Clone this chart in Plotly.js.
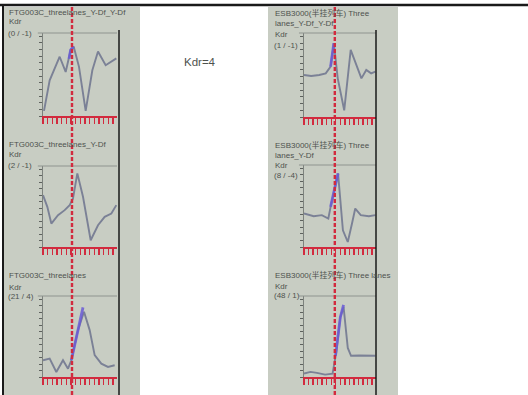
<!DOCTYPE html>
<html>
<head>
<meta charset="utf-8">
<script src="https://cdn.plot.ly/plotly-3.0.1.min.js"></script>
<style>html,body{margin:0;padding:0;background:#fff;}#chart{width:528px;height:395px;}</style>
</head>
<body>
<div id="chart"></div>
<script>
// ---- data (x: time step, y: Kdr response, 0-10 scale) ----
const L1_x = [0.15, 1.0, 2.5, 3.4, 4.15, 4.6, 5.4, 6.4, 7.4, 8.25, 9.4, 11.0];
const L1_y = [0.61, 4.29, 7.14, 5.31, 7.96, 8.37, 5.92, 0.61, 5.51, 7.76, 6.12, 6.94];
const L1_hx = [3.9, 4.15, 4.6];
const L1_hy = [6.9, 7.96, 8.37];

const L2_x = [0, 0.65, 1.25, 2.25, 3.25, 4.0, 4.5, 5.15, 6.0, 6.75, 7.15, 8.25, 9.25, 10.25, 11.0];
const L2_y = [6.40, 4.96, 2.89, 3.93, 4.55, 5.17, 5.99, 9.09, 6.20, 2.89, 0.83, 2.69, 3.72, 4.13, 5.17];

const L3_x = [0, 1.0, 2.0, 3.0, 3.75, 4.25, 5.25, 6.15, 7.0, 7.75, 8.75, 9.75, 10.75];
const L3_y = [2.07, 2.27, 0.62, 2.07, 1.03, 2.07, 5.79, 8.06, 5.79, 2.69, 1.65, 1.24, 1.45];
const L3_hx = [4.25, 5.25, 6.0];
const L3_hy = [2.07, 6.0, 8.6];

const R1_x = [0, 1.1, 2.35, 3.35, 4.1, 4.6, 5.2, 6.2, 7.2, 8.1, 8.85, 9.6, 10.35, 11.0];
const R1_y = [5.0, 4.88, 5.0, 5.2, 6.0, 8.8, 4.6, 0.8, 8.0, 6.0, 4.6, 5.6, 5.2, 5.4];
const R1_hx = [4.1, 4.6];
const R1_hy = [6.0, 8.8];

const R2_x = [0, 1.5, 2.75, 3.75, 4.1, 4.75, 5.25, 6.0, 6.75, 7.4, 7.9, 8.75, 10.0, 11.0];
const R2_y = [4.08, 3.76, 3.88, 3.47, 4.90, 7.35, 8.98, 2.04, 0.61, 2.86, 4.69, 3.88, 3.76, 3.88];
const R2_hx = [4.1, 4.75, 5.25];
const R2_hy = [4.90, 7.35, 8.98];

const R3_x = [0, 1.0, 2.0, 3.25, 4.4, 5.0, 5.6, 6.1, 6.75, 7.25, 8.5, 11.0];
const R3_y = [0.42, 0.63, 0.51, 0.30, 0.42, 3.16, 7.38, 8.65, 3.59, 2.62, 2.66, 2.62];
const R3_hx = [4.85, 5.6, 6.1];
const R3_hy = [2.6, 7.38, 8.9];

// event time (red dashed marker) per column
const eventLeft = 4.35;
const eventRight = 4.75;

// panel texts
const titlesLeft = ["FTG003C_threelanes_Y-Df_Y-Df", "FTG003C_threelanes_Y-Df", "FTG003C_threelanes"];
const titlesRight = [["ESB3000(半挂列车) Three", "lanes_Y-Df_Y-Df"], ["ESB3000(半挂列车) Three", "lanes_Y-Df"], ["ESB3000(半挂列车) Three lanes"]];
const countsLeft = ["(0 / -1)", "(2 / -1)", "(21 / 4)"];
const countsRight = ["(1 / -1)", "(8 / -4)", "(48 / 1)"];
const yLabel = "Kdr";
const noteText = "Kdr=4";

// ---- layout helpers ----
const W = 528, H = 395;
const px = v => v / W;
const py = v => 1 - v / H;

const lineCol = '#7b8196';
const hiCol = '#6a5ad6';
const redCol = '#d22a3e';
const bgGray = '#c8cdc3';

// panel boxes in pixels: [left, right, top, bottom]
const boxes = [
  [43, 117, 33, 116], [43, 117, 166, 247], [43, 117, 296, 377],
  [304, 376, 33, 117], [304, 376, 165, 247], [304, 376, 296, 377]
];
const series = [
  [L1_x, L1_y, L1_hx, L1_hy], [L2_x, L2_y, null, null], [L3_x, L3_y, L3_hx, L3_hy],
  [R1_x, R1_y, R1_hx, R1_hy], [R2_x, R2_y, R2_hx, R2_hy], [R3_x, R3_y, R3_hx, R3_hy]
];

const data = [];
const layout = {
  width: W, height: H,
  margin: {l: 0, r: 0, t: 0, b: 0},
  paper_bgcolor: '#ffffff',
  plot_bgcolor: 'rgba(0,0,0,0)',
  showlegend: false,
  font: {family: 'Arial, "Liberation Sans", "Noto Sans CJK SC", sans-serif', color: '#555'},
  shapes: [],
  annotations: []
};

// background gray strips (scanned panels)
layout.shapes.push({type: 'rect', xref: 'paper', yref: 'paper', x0: px(4), x1: px(140), y0: 0, y1: py(7), fillcolor: bgGray, line: {width: 0}, layer: 'below'});
layout.shapes.push({type: 'rect', xref: 'paper', yref: 'paper', x0: px(268), x1: px(398), y0: 0, y1: py(7), fillcolor: bgGray, line: {width: 0}, layer: 'below'});

boxes.forEach((b, i) => {
  const n = i + 1;
  const xa = 'xaxis' + (n === 1 ? '' : n);
  const ya = 'yaxis' + (n === 1 ? '' : n);
  const xr = 'x' + (n === 1 ? '' : n);
  const yr = 'y' + (n === 1 ? '' : n);
  layout[xa] = {
    domain: [px(b[0]), px(b[1])], anchor: yr, range: [0, 11.1],
    showgrid: false, zeroline: false, showticklabels: false,
    showline: true, linecolor: redCol, linewidth: 2,
    ticks: 'outside', tickcolor: redCol, ticklen: 6, tickwidth: 1.4, dtick: 0.7, tick0: 0
  };
  layout[ya] = {
    domain: [py(b[3]), py(b[2])], anchor: xr, range: [0, 10],
    showgrid: false, zeroline: false, showticklabels: false,
    showline: true, linecolor: '#7d827d', linewidth: 1,
    ticks: 'outside', tickcolor: '#5e625e', ticklen: 3, tickwidth: 1, dtick: 0.8
  };
  // top frame line of the plot box
  layout.shapes.push({type: 'line', xref: xr + ' domain', yref: yr + ' domain', x0: -0.07, x1: 1, y0: 1, y1: 1, line: {color: '#8f948f', width: 1}});
  const s = series[i];
  data.push({x: s[0], y: s[1], xaxis: xr, yaxis: yr, type: 'scatter', mode: 'lines', line: {color: lineCol, width: 1.9}, hoverinfo: 'skip'});
  if (s[2]) {
    data.push({x: s[2], y: s[3], xaxis: xr, yaxis: yr, type: 'scatter', mode: 'lines', line: {color: hiCol, width: 2.8}, opacity: 0.85, hoverinfo: 'skip'});
  }
});

// outer frame lines
layout.shapes.push({type: 'line', xref: 'paper', yref: 'paper', x0: px(0), x1: 1, y0: py(5), y1: py(5), line: {color: '#1a1a1a', width: 2.5}});
layout.shapes.push({type: 'line', xref: 'paper', yref: 'paper', x0: px(3), x1: px(3), y0: 0, y1: py(5), line: {color: '#1a1a1a', width: 2}});
// column right edge lines
layout.shapes.push({type: 'line', xref: 'paper', yref: 'paper', x0: px(119), x1: px(119), y0: 0, y1: py(30), line: {color: '#1a1a1a', width: 1.5}});
layout.shapes.push({type: 'line', xref: 'paper', yref: 'paper', x0: px(376), x1: px(376), y0: 0, y1: py(30), line: {color: '#1a1a1a', width: 1.5}});
// red dashed event lines through the columns
layout.shapes.push({type: 'line', xref: 'x', yref: 'paper', x0: eventLeft, x1: eventLeft, y0: 0, y1: py(6), line: {color: redCol, width: 2.4, dash: '4px,2px'}});
layout.shapes.push({type: 'line', xref: 'x4', yref: 'paper', x0: eventRight, x1: eventRight, y0: 0, y1: py(6), line: {color: redCol, width: 2.4, dash: '4px,2px'}});

// text labels
const ann = (t, x, y, size) => layout.annotations.push({
  text: t, xref: 'paper', yref: 'paper', x: px(x), y: py(y), xanchor: 'left', yanchor: 'middle',
  showarrow: false, font: {size: size || 8, color: '#4e524e', family: 'Arial, "Liberation Sans", "Noto Sans CJK SC", sans-serif'}
});
const leftRows = [[13, 22, 33], [145, 154, 165], [275, 287, 296]];
titlesLeft.forEach((t, i) => {
  ann(t, 7, leftRows[i][0]);
  ann(yLabel, 7, leftRows[i][1]);
  ann(countsLeft[i], 6, leftRows[i][2], 8);
});
const rightRows = [[[13, 24], 34, 46], [[145, 155], 165, 176], [[275], 286, 295]];
titlesRight.forEach((lines, i) => {
  lines.forEach((t, k) => ann(t, 273, rightRows[i][0][k]));
  ann(yLabel, 273, rightRows[i][1]);
  ann(countsRight[i], 272, rightRows[i][2], 8);
});
ann(noteText, 182, 62, 11.5);

Plotly.newPlot('chart', data, layout, {staticPlot: true, displayModeBar: false});
</script>
</body>
</html>
